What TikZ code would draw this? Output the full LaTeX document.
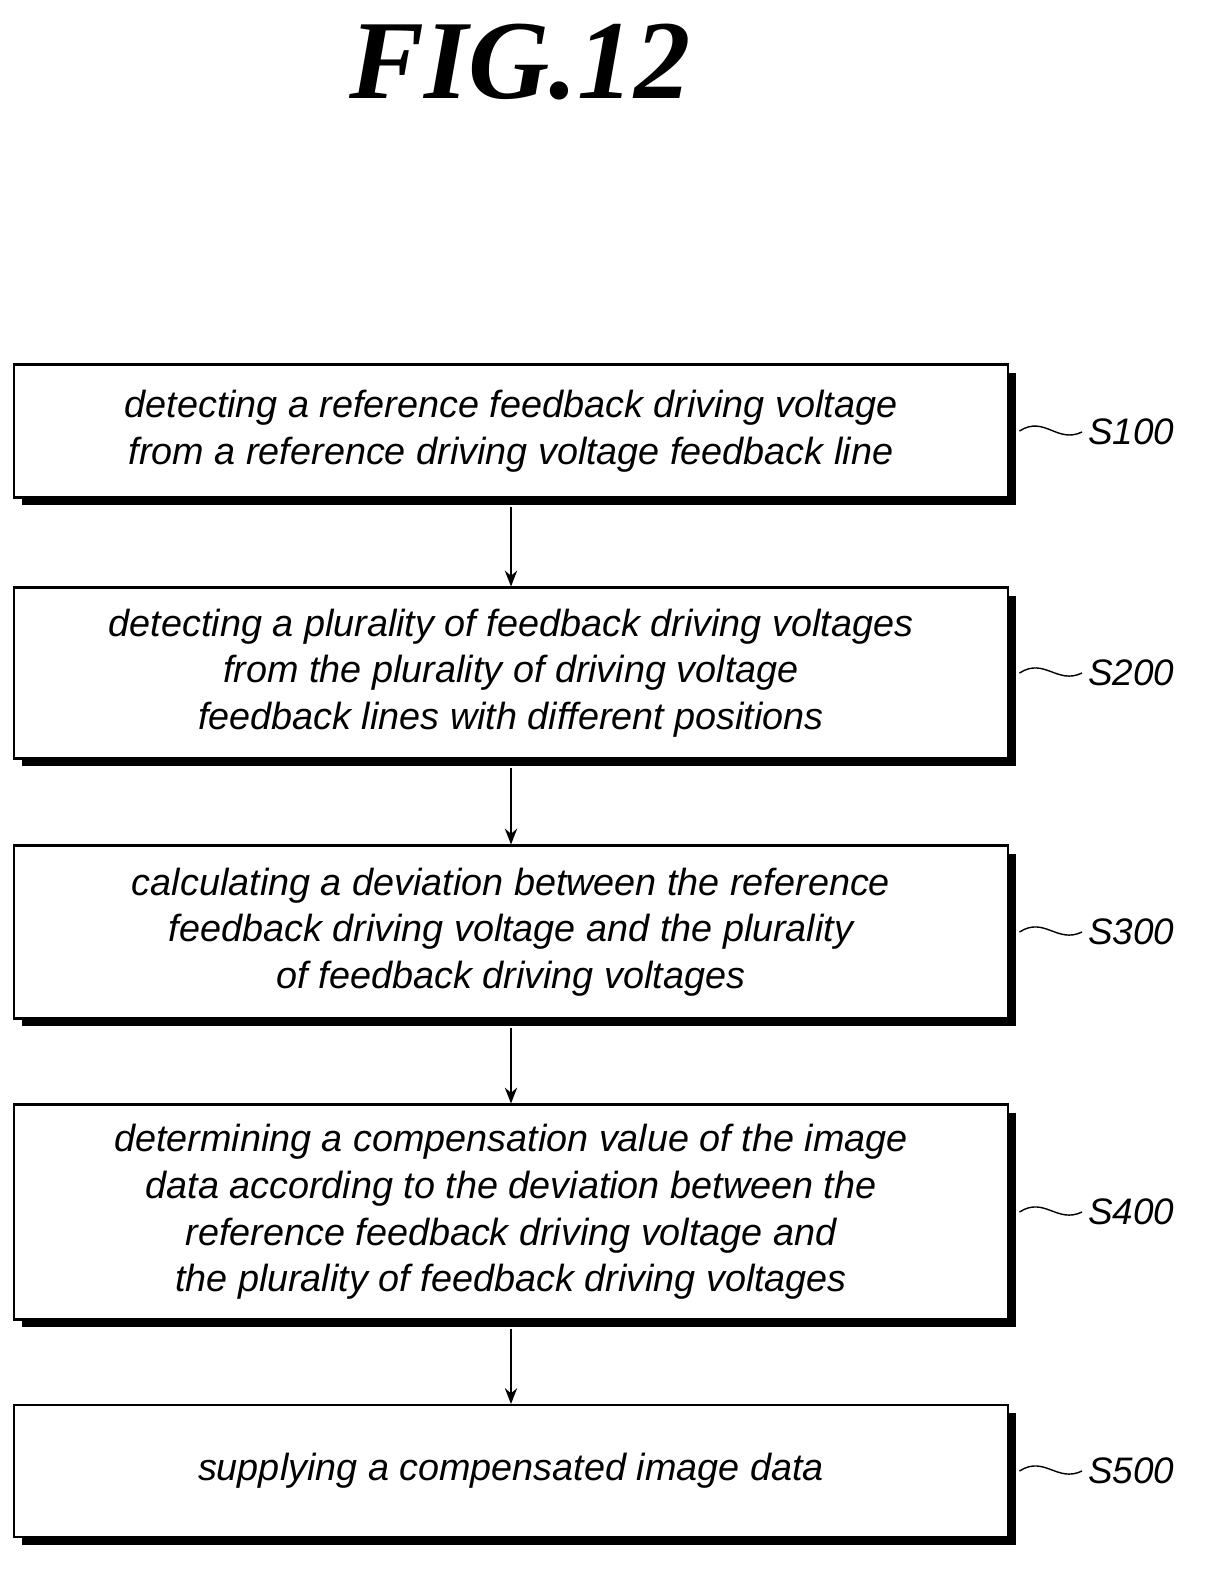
\documentclass[tikz,border=0pt]{standalone}
\usepackage{fontspec}
\setmainfont{Liberation Sans}
\newfontfamily\titlefont{Liberation Serif}
\usetikzlibrary{positioning}
\usetikzlibrary{arrows.meta}
\tikzset{
  % process step box with drop shadow
  stepbox/.style = {
    draw = black,
    line width = 1.2pt,
    fill = white,
    minimum width = 19.9cm,
    align = center,
    font = \fontsize{21.5}{26.5}\selectfont\itshape,
    preaction = {fill = black, transform canvas = {xshift = 0.16cm, yshift = -0.16cm}}
  },
  steplabel/.style = {
    font = \fontsize{21}{24}\selectfont\itshape,
    anchor = west
  },
  flow/.style = {
    draw = black,
    line width = 1pt,
    -{Stealth[length=9pt, width=7pt]}
  }
}
\begin{document}
\begin{tikzpicture}[x=0.02cm, y=-0.02cm]
  \useasboundingbox (0,0) rectangle (1208,1587);
  \node[font=\titlefont\fontsize{64}{70}\selectfont\bfseries\itshape] (title) at (520,62) {FIG.12};

  \node[stepbox, minimum height=2.66cm] (s100) at (511,431)
    {detecting a reference feedback driving voltage\\from a reference driving voltage feedback line};
  \node[stepbox, minimum height=3.42cm] (s200) at (511,673)
    {detecting a plurality of feedback driving voltages\\from the plurality of driving voltage\\feedback lines with different positions};
  \node[stepbox, minimum height=3.46cm] (s300) at (511,932)
    {calculating a deviation between the reference\\feedback driving voltage and the plurality\\of feedback driving voltages};
  \node[stepbox, minimum height=4.3cm] (s400) at (511,1212)
    {determining a compensation value of the image\\data according to the deviation between the\\reference feedback driving voltage and\\the plurality of feedback driving voltages};
  \node[stepbox, minimum height=2.64cm] (s500) at (511,1471)
    {supplying a compensated image data};

  \draw[flow] ([yshift=-0.16cm]s100.south) -- (s200.north);
  \draw[flow] ([yshift=-0.16cm]s200.south) -- (s300.north);
  \draw[flow] ([yshift=-0.16cm]s300.south) -- (s400.north);
  \draw[flow] ([yshift=-0.16cm]s400.south) -- (s500.north);

  \foreach \s/\yy in {s100/432, s200/673, s300/932, s400/1212, s500/1471} {
    \node[steplabel] (\s lbl) at (1082,\yy) {\MakeUppercase\s};
    \coordinate (\s w) at ([xshift=0.2cm]\s.east);
    \draw[line width=0.8pt] (\s w) .. controls +(25,-16) and +(-25,12) .. (\s lbl.west);
  }
\end{tikzpicture}
\end{document}
